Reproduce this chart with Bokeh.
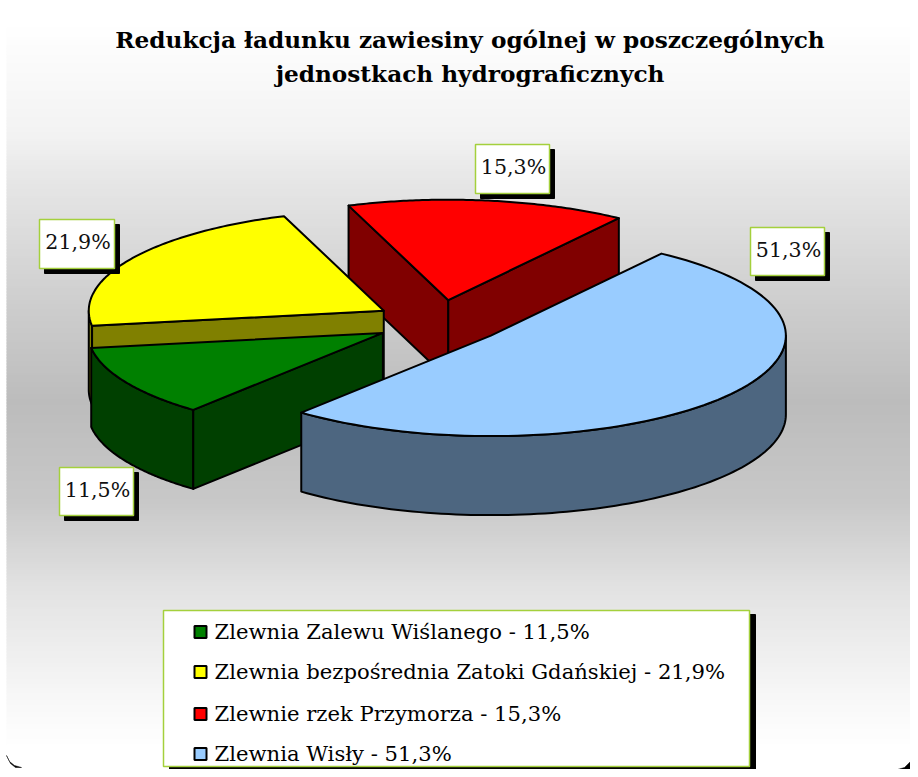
import math
from bokeh.plotting import figure
from bokeh.models import Range1d
from bokeh.core.properties import value
from bokeh.embed import file_html
from bokeh.resources import INLINE

# ---- data ----
categories = ["Zlewnia Zalewu Wiślanego", "Zlewnia bezpośrednia Zatoki Gdańskiej",
              "Zlewnie rzek Przymorza", "Zlewnia Wisły"]
shares = [11.5, 21.9, 15.3, 51.3]
top_colors = ["#008000", "#FFFF00", "#FF0000", "#99CCFF"]
side_colors = ["#004000", "#808000", "#800000", "#4D6680"]
title_lines = ["Redukcja ładunku zawiesiny ogólnej w poszczególnych",
               "jednostkach hydrograficznych"]

# ---- layout ----
W, H = 910, 769
CX, CY, RX, RY, DEPTH = 439.0, 321.6, 295.0, 100.5, 79.0
EXPLODE = 0.22
START = 230.0
SERIF = value("DejaVu Serif")
BORDER = "#A4D03C"
label_boxes = [(59, 467, 133, 515), (39, 219, 114, 268), (475, 144, 549, 193), (750, 227, 824, 275)]
grad_stops = [(0, 255), (20, 255), (130, 243), (180, 230), (300, 206), (400, 188),
              (500, 200), (590, 227), (700, 248), (745, 255), (777, 255)]

p = figure(width=W, height=H, output_backend="svg", toolbar_location=None,
           x_range=Range1d(0, W), y_range=Range1d(H, 0),
           min_border=0, outline_line_color=None, background_fill_color="white",
           border_fill_color="white")
p.axis.visible = False
p.grid.visible = False


def grey(y):
    for (y0, g0), (y1, g1) in zip(grad_stops, grad_stops[1:]):
        if y0 <= y <= y1:
            return round(g0 + (g1 - g0) * (y - y0) / (y1 - y0))
    return 255


ys = list(range(0, H, 3))
p.quad(left=[6] * len(ys), right=[W] * len(ys), top=ys, bottom=[y + 4 for y in ys],
       fill_color=["#%02x%02x%02x" % ((grey(y),) * 3) for y in ys], line_color=None)

# rounded corners of the chart area
p.patch([6, 9, 14, 21, 15, 10, 7], [755, 761, 765, 767, 767, 763, 757], color="black", line_width=0.5)
p.patch([897, 904, 910, 910], [769, 767, 761, 769], color="black", line_width=0.5)


def slices():
    out, a = [], START
    total = sum(shares)
    for i, v in enumerate(shares):
        sweep = v / total * 360.0
        mid = math.radians(a - sweep / 2)
        cx = CX + EXPLODE * RX * math.cos(mid)
        cy = CY - EXPLODE * RY * math.sin(mid)
        out.append((i, cx, cy, a, a - sweep))
        a -= sweep
    return out


def rim(cx, cy, deg):
    t = math.radians(deg)
    return cx + RX * math.cos(t), cy - RY * math.sin(t)


def draw(xs, ys, color):
    p.patch(xs, ys, fill_color=color, line_color="black", line_width=2, line_join="round")


def arc(cx, cy, a0, a1, n=90):
    pts = [rim(cx, cy, a0 + (a1 - a0) * k / n) for k in range(n + 1)]
    return [q[0] for q in pts], [q[1] for q in pts]


for i, cx, cy, a0, a1 in sorted(slices(), key=lambda s: s[2]):
    side = side_colors[i]
    # outer wall where the rim faces the viewer
    for shift in (0, -360, 360):
        lo, hi = max(a1, 180 + shift), min(a0, 360 + shift)
        if lo < hi:
            xs, ys_ = arc(cx, cy, hi, lo)
            draw(xs + xs[::-1], ys_ + [y + DEPTH for y in ys_[::-1]], side)
    # cut faces
    if math.cos(math.radians(a0)) < 0:
        x, y = rim(cx, cy, a0)
        draw([cx, x, x, cx], [cy, y, y + DEPTH, cy + DEPTH], side)
    if math.cos(math.radians(a1)) > 0:
        x, y = rim(cx, cy, a1)
        draw([cx, x, x, cx], [cy, y, y + DEPTH, cy + DEPTH], side)
    xs, ys_ = arc(cx, cy, a0, a1)
    draw([cx] + xs, [cy] + ys_, top_colors[i])

# data labels
for v, (l, t, r, b) in zip(shares, label_boxes):
    p.quad(left=[l + 5], right=[r + 5], top=[t + 5], bottom=[b + 5], color="black")
    p.quad(left=[l], right=[r], top=[t], bottom=[b], fill_color="white", line_color=BORDER, line_width=1.5)
    p.text([(l + r) / 2 + 1], [(t + b) / 2 - 2], text=[f"{v:.1f}%".replace(".", ",")], text_font=SERIF,
           text_font_size="20.6px", text_align="center", text_baseline="middle", text_color="#111111")

# legend
LL, LT, LR, LB = 163, 610, 749, 766
p.quad(left=[LL + 6], right=[LR + 6], top=[LT + 4], bottom=[LB + 6], color="black")
p.quad(left=[LL], right=[LR], top=[LT], bottom=[LB], fill_color="white", line_color=BORDER, line_width=1.5)
row_mid = [631, 671, 713, 753]
for name, v, col, y in zip(categories, shares, top_colors, row_mid):
    p.quad(left=[194], right=[206], top=[y - 5.5], bottom=[y + 6.5], fill_color=col, line_color="black", line_width=2)
    p.text([214], [y - 0.5], text=[f"{name} - {v:.1f}%".replace(".", ",")], text_font=SERIF,
           text_font_size="21.15px", text_align="left", text_baseline="middle", text_color="black")

# title
for line, y in zip(title_lines, [39, 73]):
    p.text([469.5], [y], text=[line], text_font=SERIF, text_font_size="23.2px", text_font_style="bold",
           text_align="center", text_baseline="middle", text_color="black")

open("out.html", "w").write(file_html(p, INLINE))
